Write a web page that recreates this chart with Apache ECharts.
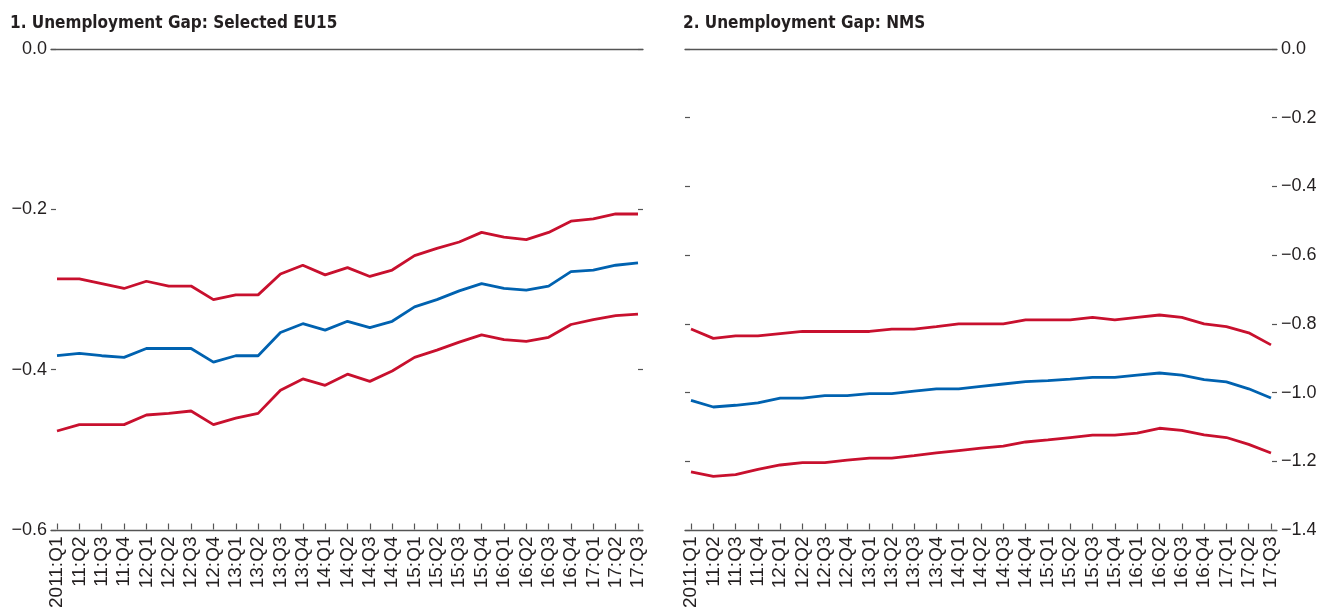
<!DOCTYPE html>
<html>
<head>
<meta charset="utf-8">
<script src="https://cdn.jsdelivr.net/npm/echarts@6/dist/echarts.min.js"></script>
<style>html,body{margin:0;padding:0;background:#fff;}#c{width:1320px;height:611px;}</style>
</head>
<body>
<div id="c"></div>
<script>
var categories = ['2011:Q1','11:Q2','11:Q3','11:Q4','12:Q1','12:Q2','12:Q3','12:Q4','13:Q1','13:Q2','13:Q3','13:Q4','14:Q1','14:Q2','14:Q3','14:Q4','15:Q1','15:Q2','15:Q3','15:Q4','16:Q1','16:Q2','16:Q3','16:Q4','17:Q1','17:Q2','17:Q3'];
var eu15Upper = [-0.287,-0.287,-0.293,-0.299,-0.290,-0.296,-0.296,-0.313,-0.307,-0.307,-0.281,-0.270,-0.282,-0.273,-0.284,-0.276,-0.258,-0.249,-0.241,-0.229,-0.235,-0.238,-0.229,-0.215,-0.212,-0.206,-0.206];
var eu15Mid = [-0.383,-0.380,-0.383,-0.385,-0.374,-0.374,-0.374,-0.391,-0.383,-0.383,-0.354,-0.343,-0.351,-0.340,-0.348,-0.340,-0.322,-0.313,-0.302,-0.293,-0.299,-0.301,-0.296,-0.278,-0.276,-0.270,-0.267];
var eu15Lower = [-0.477,-0.469,-0.469,-0.469,-0.457,-0.455,-0.452,-0.469,-0.461,-0.455,-0.426,-0.412,-0.420,-0.406,-0.415,-0.402,-0.385,-0.376,-0.366,-0.357,-0.363,-0.365,-0.360,-0.344,-0.338,-0.333,-0.331];
var nmsUpper = [-0.816,-0.843,-0.836,-0.836,-0.829,-0.823,-0.823,-0.823,-0.823,-0.816,-0.816,-0.809,-0.801,-0.801,-0.801,-0.789,-0.789,-0.789,-0.782,-0.789,-0.782,-0.775,-0.782,-0.801,-0.809,-0.827,-0.862];
var nmsMid = [-1.024,-1.043,-1.038,-1.031,-1.017,-1.017,-1.010,-1.010,-1.004,-1.004,-0.997,-0.990,-0.990,-0.983,-0.976,-0.969,-0.966,-0.962,-0.957,-0.957,-0.950,-0.944,-0.950,-0.963,-0.970,-0.990,-1.017];
var nmsLower = [-1.232,-1.245,-1.240,-1.225,-1.212,-1.205,-1.205,-1.198,-1.192,-1.192,-1.185,-1.177,-1.170,-1.163,-1.157,-1.145,-1.139,-1.132,-1.125,-1.125,-1.119,-1.105,-1.111,-1.124,-1.132,-1.152,-1.177];
var titles = ['1. Unemployment Gap: Selected EU15', '2. Unemployment Gap: NMS'];

var RED = '#C8102E', BLUE = '#0062B0', AX = '#555555', TXT = '#231F20';
var LBL_FONT = '"Liberation Sans", Arial, sans-serif';
var TITLE_FONT = '"DejaVu Sans Condensed", "Liberation Sans", sans-serif';

function fmt(v){ var s = Math.abs(v).toFixed(1); return (v < -1e-9 ? '\u2212' : '') + s; }

var chart = echarts.init(document.getElementById('c'), null, {renderer:'canvas'});

var grids = [
  {left:51, right:677, top:49, bottom:81},
  {left:57, right:682, top:49, bottom:81},
  {left:685, right:43, top:49, bottom:81},
  {left:691, right:49, top:49, bottom:81}
];

function frameX(gi, pos){
  return {gridIndex:gi, type:'value', min:0, max:1, position:pos,
    axisLine:{show:true, onZero:false, lineStyle:{color:AX, width:1.3}},
    axisTick:{show:false}, axisLabel:{show:false}, splitLine:{show:false}};
}
function dataX(gi){
  return {gridIndex:gi, type:'category', data:categories, boundaryGap:false, position:'bottom',
    axisLine:{show:false, onZero:false},
    axisTick:{show:true, inside:true, length:6, interval:0, lineStyle:{color:AX, width:1.2}},
    axisLabel:{show:true, interval:0, rotate:90, margin:7, fontFamily:LBL_FONT, fontSize:19, color:TXT},
    splitLine:{show:false}};
}
function frameY(gi, pos, min, labels){
  return {gridIndex:gi, type:'value', min:min, max:0, interval:0.2, position:pos,
    axisLine:{show:false, onZero:false},
    axisTick:{show:true, inside:true, length:5, lineStyle:{color:AX, width:1.2}},
    axisLabel:{show:labels, margin:4, fontFamily:LBL_FONT, fontSize:18, color:TXT, formatter:fmt},
    splitLine:{show:false}};
}
function dataY(gi, min){
  return {gridIndex:gi, type:'value', min:min, max:0, show:false, splitLine:{show:false}};
}

var xAxes = [frameX(0,'bottom'), frameX(0,'top'), dataX(1), frameX(2,'bottom'), frameX(2,'top'), dataX(3)];
var yAxes = [frameY(0,'left',-0.6,true), frameY(0,'right',-0.6,false), dataY(1,-0.6),
             frameY(2,'left',-1.4,false), frameY(2,'right',-1.4,true), dataY(3,-1.4)];

function line(name, data, color, xi, yi){
  return {name:name, type:'line', data:data, xAxisIndex:xi, yAxisIndex:yi, symbol:'none',
    lineStyle:{color:color, width:2.8}, itemStyle:{color:color}, animation:false, z:3};
}

var option = {
  animation:false,
  backgroundColor:'#ffffff',
  title:[
    {text:titles[0], left:10, top:15, padding:0, textStyle:{fontFamily:TITLE_FONT, fontWeight:'bold', fontSize:17, color:TXT}},
    {text:titles[1], left:683, top:15, padding:0, textStyle:{fontFamily:TITLE_FONT, fontWeight:'bold', fontSize:17, color:TXT}}
  ],
  grid:grids,
  xAxis:xAxes,
  yAxis:yAxes,
  series:[
    line('EU15 upper', eu15Upper, RED, 2, 2),
    line('EU15 baseline', eu15Mid, BLUE, 2, 2),
    line('EU15 lower', eu15Lower, RED, 2, 2),
    line('NMS upper', nmsUpper, RED, 5, 5),
    line('NMS baseline', nmsMid, BLUE, 5, 5),
    line('NMS lower', nmsLower, RED, 5, 5)
  ]
};
chart.setOption(option);
</script>
</body>
</html>
